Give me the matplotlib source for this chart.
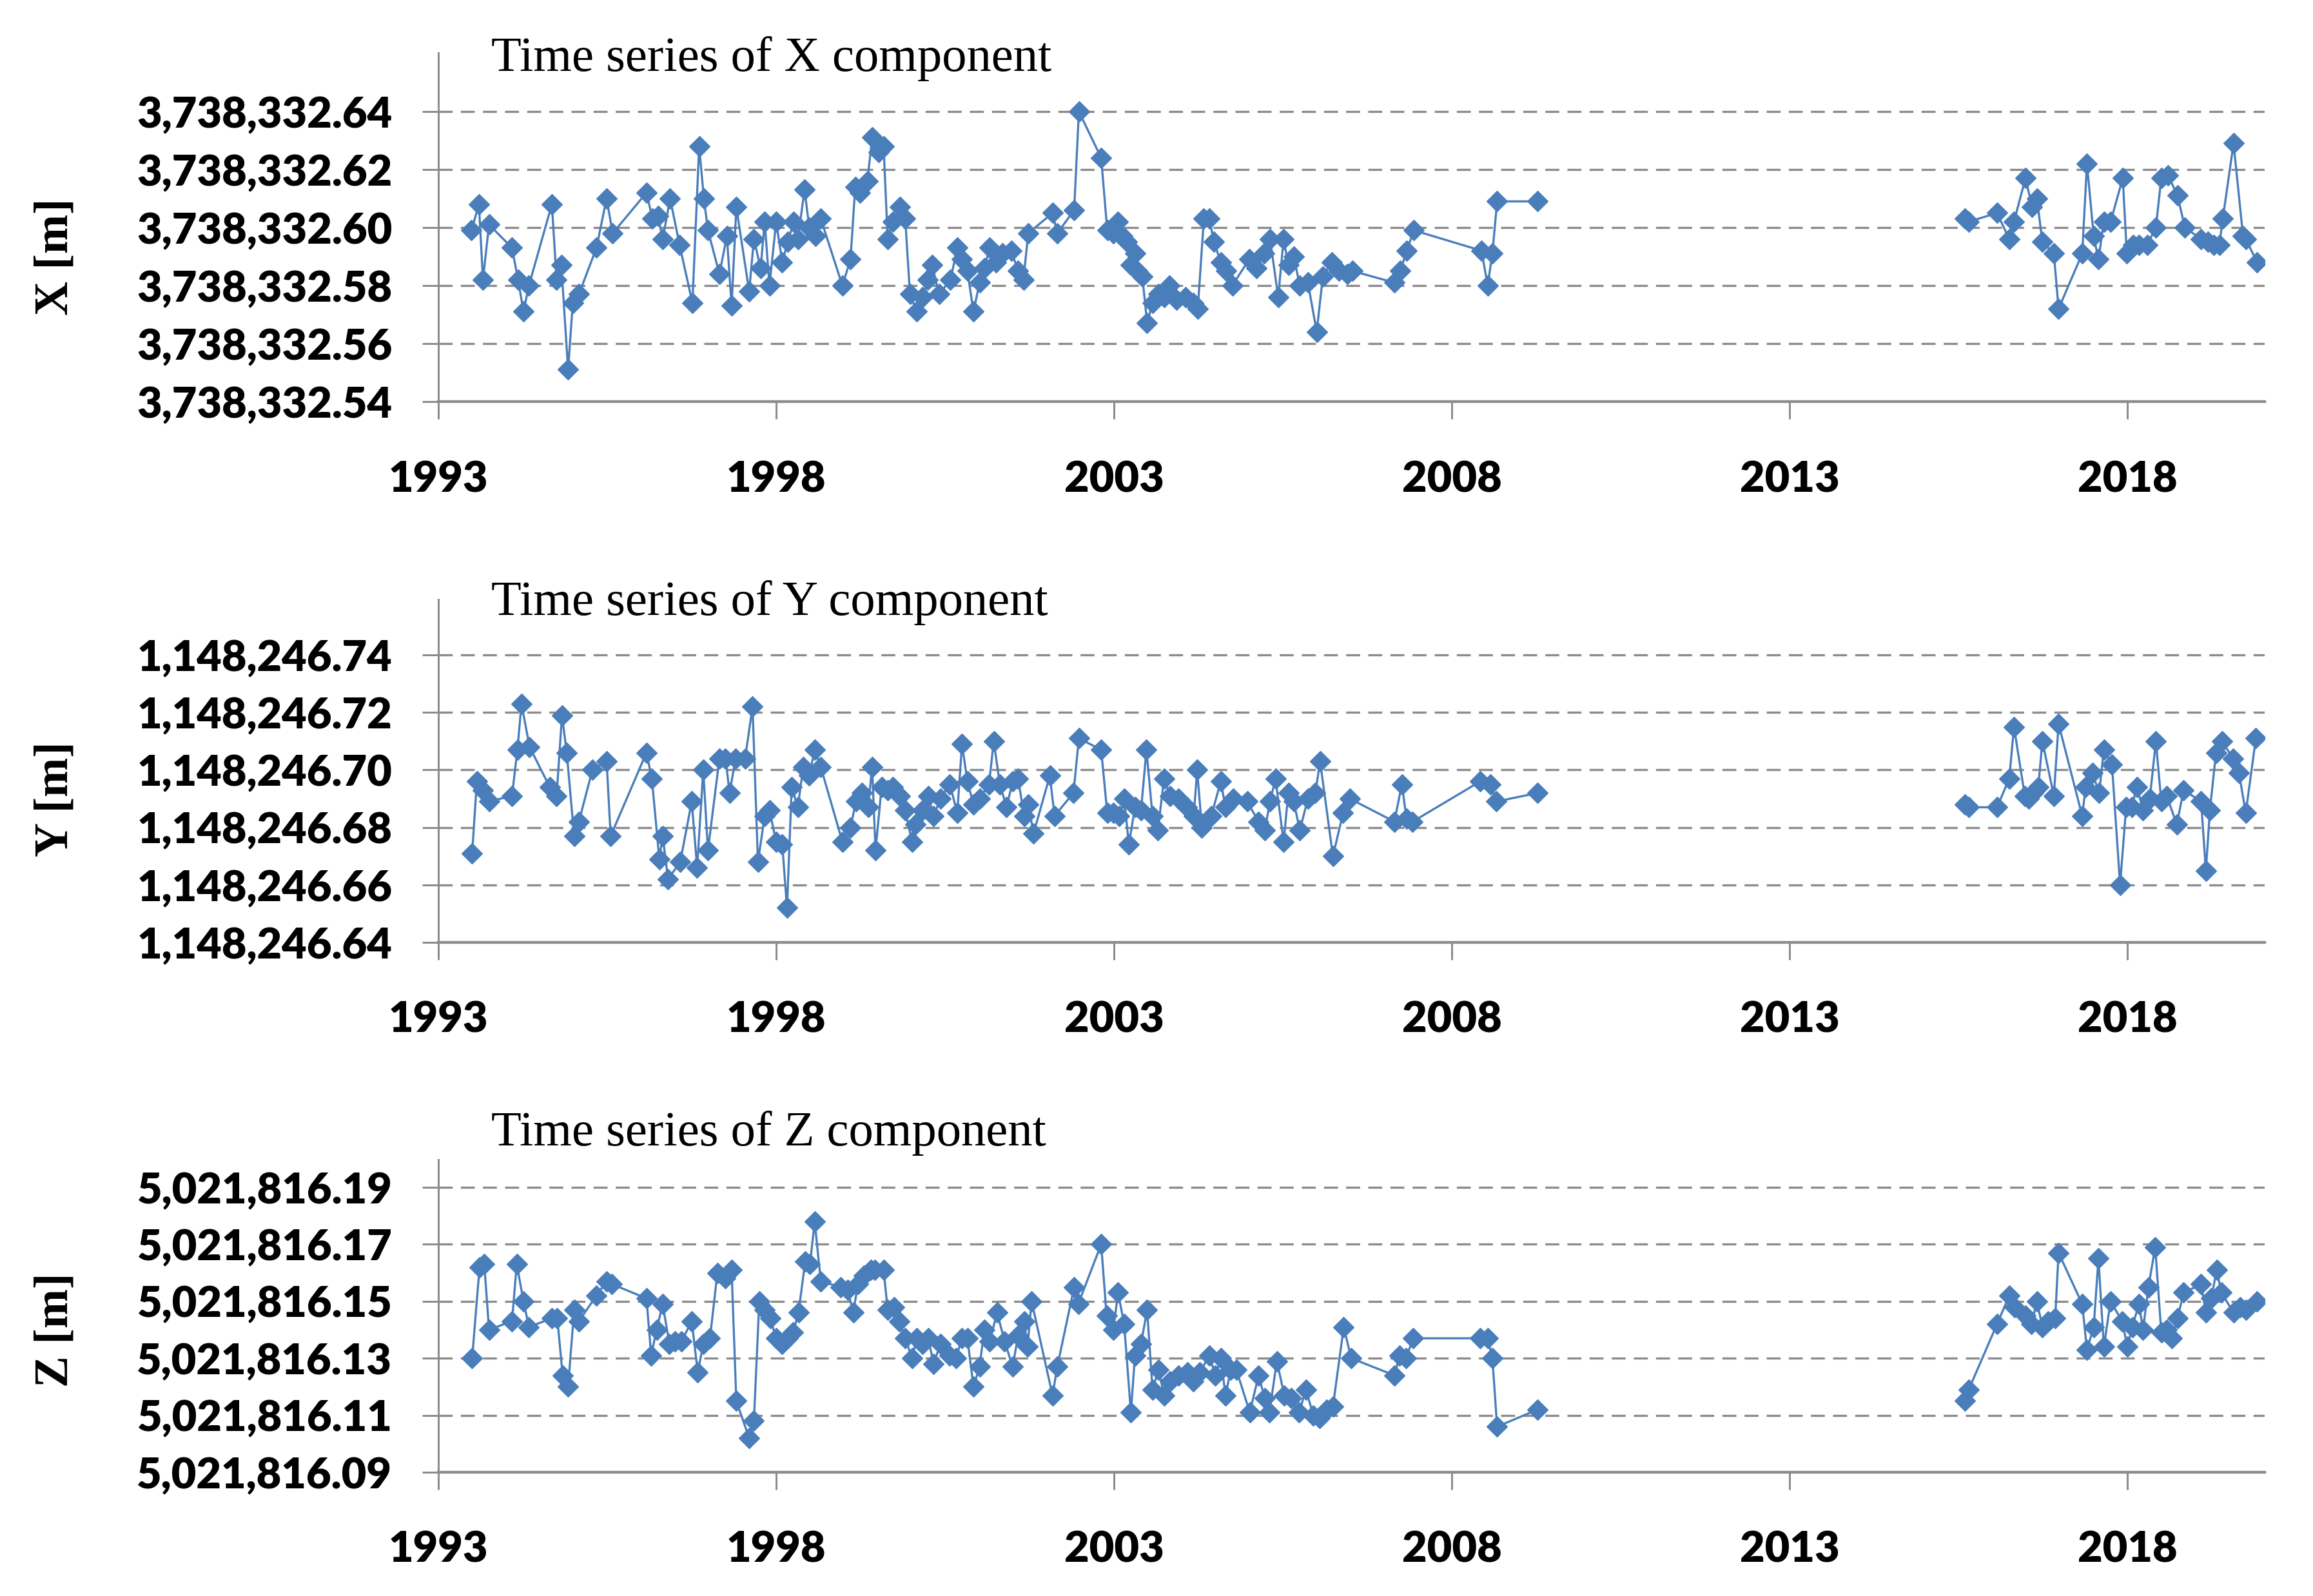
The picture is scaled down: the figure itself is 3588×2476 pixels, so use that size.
import matplotlib
matplotlib.use("Agg")
import matplotlib.pyplot as plt
from matplotlib.ticker import FixedLocator, FuncFormatter

# ---------------- data ----------------
x_dates = [1993.49, 1993.60, 1993.66, 1993.75, 1994.09, 1994.18, 1994.26, 1994.34, 1994.68, 1994.75,
           1994.82, 1994.92, 1994.99, 1995.08, 1995.34, 1995.49, 1995.58, 1996.08, 1996.17, 1996.25,
           1996.32, 1996.43, 1996.57, 1996.76, 1996.86, 1996.93, 1996.99, 1997.16, 1997.27, 1997.34,
           1997.41, 1997.60, 1997.67, 1997.77, 1997.83, 1997.90, 1998.00, 1998.09, 1998.17, 1998.26,
           1998.32, 1998.42, 1998.49, 1998.58, 1998.66, 1998.98, 1999.10, 1999.17, 1999.24, 1999.35,
           1999.42, 1999.52, 1999.59, 1999.65, 1999.73, 1999.83, 1999.91, 1999.98, 2000.08, 2000.17,
           2000.24, 2000.31, 2000.41, 2000.58, 2000.68, 2000.75, 2000.83, 2000.92, 2001.01, 2001.08,
           2001.16, 2001.25, 2001.35, 2001.48, 2001.58, 2001.66, 2001.73, 2002.09, 2002.16, 2002.41,
           2002.48, 2002.81, 2002.90, 2002.99, 2003.06, 2003.12, 2003.19, 2003.25, 2003.31, 2003.34,
           2003.42, 2003.49, 2003.57, 2003.66, 2003.74, 2003.82, 2003.92, 2004.06, 2004.17, 2004.24,
           2004.33, 2004.41, 2004.48, 2004.58, 2004.66, 2004.75, 2005.00, 2005.11, 2005.22, 2005.31,
           2005.43, 2005.51, 2005.58, 2005.66, 2005.75, 2005.87, 2006.00, 2006.09, 2006.22, 2006.33,
           2006.45, 2006.53, 2007.15, 2007.24, 2007.33, 2007.44, 2008.44, 2008.53, 2008.60, 2008.67,
           2009.27, 2015.59, 2015.65, 2016.07, 2016.25, 2016.32, 2016.49, 2016.59, 2016.66, 2016.74,
           2016.91, 2016.98, 2017.33, 2017.40, 2017.50, 2017.57, 2017.65, 2017.75, 2017.93, 2017.99,
           2018.08, 2018.17, 2018.29, 2018.42, 2018.50, 2018.60, 2018.74, 2018.85, 2019.09, 2019.19,
           2019.28, 2019.36, 2019.41, 2019.57, 2019.71, 2019.75, 2019.92]
x_base = 3738332.0
x_vals = [0.599, 0.608, 0.582, 0.601, 0.593, 0.582, 0.571, 0.580, 0.608, 0.582,
          0.587, 0.551, 0.574, 0.577, 0.593, 0.610, 0.598, 0.612, 0.603, 0.604,
          0.596, 0.610, 0.594, 0.574, 0.628, 0.610, 0.599, 0.584, 0.597, 0.573,
          0.607, 0.578, 0.596, 0.586, 0.602, 0.580, 0.602, 0.588, 0.595, 0.602,
          0.596, 0.613, 0.600, 0.597, 0.603, 0.580, 0.589, 0.614, 0.612, 0.616,
          0.631, 0.626, 0.628, 0.596, 0.602, 0.607, 0.603, 0.577, 0.571, 0.576,
          0.582, 0.587, 0.577, 0.582, 0.593, 0.589, 0.585, 0.571, 0.581, 0.586,
          0.593, 0.588, 0.591, 0.592, 0.585, 0.582, 0.598, 0.605, 0.598, 0.606,
          0.640, 0.624, 0.599, 0.598, 0.602, 0.597, 0.595, 0.587, 0.591, 0.585,
          0.583, 0.567, 0.574, 0.577, 0.576, 0.580, 0.575, 0.576, 0.574, 0.572,
          0.603, 0.603, 0.595, 0.588, 0.585, 0.580, 0.589, 0.586, 0.591, 0.596,
          0.576, 0.596, 0.587, 0.590, 0.580, 0.581, 0.564, 0.583, 0.588, 0.585,
          0.584, 0.585, 0.581, 0.585, 0.592, 0.599, 0.592, 0.580, 0.591, 0.609,
          0.609, 0.603, 0.602, 0.605, 0.596, 0.602, 0.617, 0.607, 0.610, 0.595,
          0.591, 0.572, 0.591, 0.622, 0.597, 0.589, 0.602, 0.602, 0.617, 0.591,
          0.594, 0.594, 0.594, 0.600, 0.617, 0.618, 0.611, 0.600, 0.596, 0.595,
          0.594, 0.594, 0.603, 0.629, 0.597, 0.596, 0.588]

y_dates = [1993.50, 1993.57, 1993.66, 1993.75, 1994.09, 1994.17, 1994.23, 1994.35, 1994.65, 1994.75,
           1994.83, 1994.90, 1995.01, 1995.08, 1995.28, 1995.49, 1995.55, 1996.08, 1996.16, 1996.27,
           1996.32, 1996.40, 1996.58, 1996.75, 1996.83, 1996.92, 1996.99, 1997.16, 1997.25, 1997.31,
           1997.40, 1997.54, 1997.65, 1997.73, 1997.83, 1997.90, 1998.00, 1998.09, 1998.16, 1998.23,
           1998.32, 1998.40, 1998.49, 1998.57, 1998.66, 1998.98, 1999.10, 1999.18, 1999.27, 1999.36,
           1999.42, 1999.47, 1999.56, 1999.65, 1999.73, 1999.83, 1999.91, 2000.01, 2000.06, 2000.17,
           2000.25, 2000.33, 2000.43, 2000.57, 2000.68, 2000.75, 2000.83, 2000.92, 2001.01, 2001.15,
           2001.22, 2001.31, 2001.41, 2001.50, 2001.58, 2001.67, 2001.73, 2001.81, 2002.05, 2002.12,
           2002.40, 2002.48, 2002.81, 2002.90, 2002.99, 2003.08, 2003.15, 2003.22, 2003.31, 2003.40,
           2003.48, 2003.57, 2003.65, 2003.74, 2003.83, 2003.95, 2004.08, 2004.18, 2004.23, 2004.30,
           2004.44, 2004.58, 2004.65, 2004.76, 2004.97, 2005.14, 2005.23, 2005.31, 2005.39, 2005.51,
           2005.58, 2005.66, 2005.75, 2005.87, 2005.98, 2006.05, 2006.24, 2006.39, 2006.49, 2007.15,
           2007.26, 2007.33, 2007.42, 2008.42, 2008.57, 2008.66, 2009.27, 2015.59, 2015.65, 2016.07,
           2016.25, 2016.32, 2016.48, 2016.54, 2016.60, 2016.68, 2016.74, 2016.91, 2016.98, 2017.33,
           2017.38, 2017.48, 2017.58, 2017.65, 2017.77, 2017.89, 2017.98, 2018.06, 2018.14, 2018.23,
           2018.33, 2018.42, 2018.50, 2018.58, 2018.73, 2018.83, 2019.09, 2019.16, 2019.22, 2019.31,
           2019.40, 2019.56, 2019.65, 2019.75, 2019.90]
y_base = 1148246.0
y_vals = [0.671, 0.696, 0.693, 0.689, 0.691, 0.707, 0.723, 0.708, 0.694, 0.691,
          0.719, 0.706, 0.677, 0.682, 0.700, 0.703, 0.677, 0.706, 0.697, 0.669,
          0.677, 0.662, 0.668, 0.689, 0.666, 0.700, 0.672, 0.704, 0.704, 0.692,
          0.704, 0.704, 0.722, 0.668, 0.684, 0.686, 0.675, 0.674, 0.652, 0.694,
          0.687, 0.701, 0.698, 0.707, 0.701, 0.675, 0.680, 0.689, 0.692, 0.687,
          0.701, 0.672, 0.694, 0.693, 0.694, 0.691, 0.686, 0.675, 0.681, 0.686,
          0.691, 0.684, 0.690, 0.695, 0.685, 0.709, 0.696, 0.688, 0.690, 0.695,
          0.710, 0.695, 0.687, 0.696, 0.697, 0.684, 0.688, 0.678, 0.698, 0.684,
          0.692, 0.711, 0.707, 0.685, 0.685, 0.684, 0.690, 0.674, 0.687, 0.686,
          0.707, 0.684, 0.679, 0.697, 0.691, 0.690, 0.687, 0.684, 0.700, 0.680,
          0.684, 0.696, 0.687, 0.690, 0.689, 0.682, 0.679, 0.689, 0.697, 0.675,
          0.692, 0.689, 0.679, 0.690, 0.692, 0.703, 0.670, 0.685, 0.690, 0.682,
          0.695, 0.683, 0.682, 0.696, 0.695, 0.689, 0.692, 0.688, 0.687, 0.687,
          0.697, 0.715, 0.691, 0.690, 0.692, 0.694, 0.710, 0.691, 0.716, 0.684,
          0.694, 0.699, 0.692, 0.707, 0.702, 0.660, 0.687, 0.687, 0.694, 0.686,
          0.690, 0.710, 0.689, 0.691, 0.681, 0.693, 0.689, 0.665, 0.686, 0.706,
          0.710, 0.704, 0.699, 0.685, 0.711]

z_dates = [1993.50, 1993.61, 1993.68, 1993.75, 1994.09, 1994.16, 1994.26, 1994.34, 1994.68, 1994.76,
           1994.84, 1994.92, 1995.01, 1995.08, 1995.34, 1995.49, 1995.57, 1996.08, 1996.15, 1996.23,
           1996.32, 1996.42, 1996.50, 1996.60, 1996.75, 1996.84, 1996.92, 1997.02, 1997.13, 1997.25,
           1997.34, 1997.41, 1997.60, 1997.67, 1997.75, 1997.83, 1997.91, 1998.00, 1998.09, 1998.17,
           1998.25, 1998.33, 1998.43, 1998.50, 1998.57, 1998.66, 1998.95, 1999.06, 1999.14, 1999.21,
           1999.30, 1999.40, 1999.46, 1999.59, 1999.65, 1999.75, 1999.82, 1999.91, 2000.01, 2000.08,
           2000.17, 2000.25, 2000.33, 2000.43, 2000.57, 2000.66, 2000.75, 2000.83, 2000.92, 2001.01,
           2001.08, 2001.16, 2001.27, 2001.38, 2001.50, 2001.58, 2001.67, 2001.72, 2001.78, 2002.09,
           2002.16, 2002.41, 2002.47, 2002.81, 2002.89, 2002.99, 2003.06, 2003.15, 2003.25, 2003.31,
           2003.40, 2003.49, 2003.57, 2003.66, 2003.74, 2003.83, 2003.95, 2004.09, 2004.17, 2004.27,
           2004.41, 2004.50, 2004.58, 2004.65, 2004.73, 2004.81, 2005.01, 2005.14, 2005.23, 2005.30,
           2005.41, 2005.52, 2005.62, 2005.74, 2005.84, 2005.95, 2006.04, 2006.15, 2006.24, 2006.40,
           2006.51, 2007.15, 2007.23, 2007.32, 2007.43, 2008.42, 2008.53, 2008.60, 2008.67, 2009.27,
           2015.59, 2015.65, 2016.07, 2016.25, 2016.33, 2016.49, 2016.58, 2016.66, 2016.74, 2016.82,
           2016.93, 2016.98, 2017.33, 2017.40, 2017.50, 2017.57, 2017.65, 2017.75, 2017.92, 2018.00,
           2018.07, 2018.17, 2018.23, 2018.31, 2018.41, 2018.50, 2018.58, 2018.66, 2018.74, 2018.83,
           2019.09, 2019.16, 2019.24, 2019.32, 2019.39, 2019.57, 2019.67, 2019.75, 2019.92]
z_base = 5021816.0
z_vals = [0.130, 0.162, 0.163, 0.140, 0.143, 0.163, 0.150, 0.141, 0.144, 0.144,
          0.124, 0.120, 0.147, 0.143, 0.152, 0.157, 0.156, 0.151, 0.131, 0.140,
          0.149, 0.135, 0.136, 0.136, 0.143, 0.125, 0.135, 0.137, 0.160, 0.158,
          0.161, 0.115, 0.102, 0.108, 0.150, 0.147, 0.144, 0.137, 0.135, 0.137,
          0.139, 0.146, 0.164, 0.163, 0.178, 0.157, 0.155, 0.154, 0.146, 0.156,
          0.159, 0.161, 0.161, 0.161, 0.147, 0.148, 0.143, 0.137, 0.130, 0.137,
          0.135, 0.137, 0.128, 0.135, 0.131, 0.130, 0.137, 0.137, 0.120, 0.127,
          0.140, 0.136, 0.146, 0.136, 0.127, 0.138, 0.143, 0.134, 0.150, 0.117,
          0.127, 0.155, 0.149, 0.170, 0.145, 0.140, 0.153, 0.142, 0.111, 0.131,
          0.135, 0.147, 0.119, 0.126, 0.117, 0.122, 0.124, 0.125, 0.122, 0.125,
          0.131, 0.124, 0.130, 0.117, 0.126, 0.126, 0.111, 0.124, 0.116, 0.111,
          0.129, 0.117, 0.116, 0.111, 0.119, 0.110, 0.109, 0.112, 0.113, 0.141,
          0.130, 0.124, 0.131, 0.130, 0.137, 0.137, 0.137, 0.130, 0.106, 0.112,
          0.115, 0.119, 0.142, 0.152, 0.148, 0.145, 0.142, 0.150, 0.141, 0.143,
          0.144, 0.167, 0.149, 0.133, 0.141, 0.165, 0.134, 0.150, 0.143, 0.134,
          0.141, 0.149, 0.140, 0.155, 0.169, 0.139, 0.140, 0.137, 0.144, 0.153,
          0.156, 0.146, 0.151, 0.161, 0.153, 0.146, 0.148, 0.147, 0.150]

x_ticks = [0.54, 0.56, 0.58, 0.60, 0.62, 0.64]
y_ticks = [0.64, 0.66, 0.68, 0.70, 0.72, 0.74]
z_ticks = [0.09, 0.11, 0.13, 0.15, 0.17, 0.19]
year_ticks = [1993, 1998, 2003, 2008, 2013, 2018]
titles = ["Time series of X component", "Time series of Y component", "Time series of Z component"]
ylabels = ["X [m]", "Y [m]", "Z [m]"]

# ---------------- layout (pixel geometry of the figure) ----------------
W, H = 3588, 2476
DPI = 240
fig = plt.figure(figsize=(W / DPI, H / DPI), dpi=DPI)
fig.patch.set_facecolor("white")

AX_L, AX_R = 680, 3513
panel_geom = [
    dict(top=82, bottom=623, ymax_off=0.6602, title_base=110, label_y=398),
    dict(top=930, bottom=1462, ymax_off=0.7593, title_base=954, label_y=1240),
    dict(top=1799, bottom=2284, ymax_off=0.1997, title_base=1777, label_y=2063),
]

series = [
    (x_dates, x_vals, x_base, x_ticks),
    (y_dates, y_vals, y_base, y_ticks),
    (z_dates, z_vals, z_base, z_ticks),
]

BLUE = "#4A7EBB"
GRID = "#8C8C8C"
AXC = "#8C8C8C"
GAP = 3.0  # years without data -> line is not drawn across


def split_segments(dates, vals):
    segs = []
    start = 0
    for k in range(1, len(dates)):
        if dates[k] - dates[k - 1] > GAP:
            segs.append((dates[start:k], vals[start:k]))
            start = k
    segs.append((dates[start:], vals[start:]))
    return segs


for i, ((dates, vals, base, ticks), g) in enumerate(zip(series, panel_geom)):
    left = AX_L / W
    width = (AX_R - AX_L) / W
    bottom = 1 - g["bottom"] / H
    height = (g["bottom"] - g["top"]) / H
    ax = fig.add_axes([left, bottom, width, height])

    for sd, sv in split_segments(dates, vals):
        ax.plot(sd, [base + v for v in sv], color=BLUE, linewidth=1.0, marker="D",
                markersize=6.6, markerfacecolor=BLUE, markeredgecolor=BLUE,
                markeredgewidth=0.4, zorder=3)

    ax.set_xlim(1993, 2020.03)
    ax.set_ylim(base + ticks[0], base + g["ymax_off"])

    ax.yaxis.set_major_locator(FixedLocator([base + t for t in ticks]))
    ax.yaxis.set_major_formatter(FuncFormatter(lambda v, p: f"{v:,.2f}"))
    ax.xaxis.set_major_locator(FixedLocator(year_ticks))
    ax.xaxis.set_major_formatter(FuncFormatter(lambda v, p: f"{int(round(v))}"))

    ax.yaxis.grid(True, color=GRID, linestyle=(0, (6.5, 3.8)), linewidth=1.0)
    ax.set_axisbelow(True)

    for s in ("top", "right"):
        ax.spines[s].set_visible(False)
    ax.spines["left"].set_color(AXC)
    ax.spines["left"].set_linewidth(0.9)
    ax.spines["bottom"].set_color(AXC)
    ax.spines["bottom"].set_linewidth(1.3)

    ax.tick_params(axis="y", direction="out", length=7.5, width=0.9, color=AXC, pad=14)
    ax.tick_params(axis="x", direction="out", length=8, width=0.9, color=AXC, pad=19)
    for lab in ax.get_yticklabels() + ax.get_xticklabels():
        lab.set_fontfamily("Lato")
        lab.set_fontweight("heavy")
        lab.set_fontsize(20)
        lab.set_color("black")

    fig.text(762 / W, 1 - g["title_base"] / H, titles[i], ha="left", va="baseline",
             fontfamily="Liberation Serif", fontsize=23, color="black")
    fig.text(87 / W, 1 - g["label_y"] / H, ylabels[i], ha="center", va="center",
             rotation=90, fontfamily="Liberation Serif", fontweight="bold",
             fontsize=22, color="black")

fig.savefig("out.png", dpi=DPI, facecolor="white")
